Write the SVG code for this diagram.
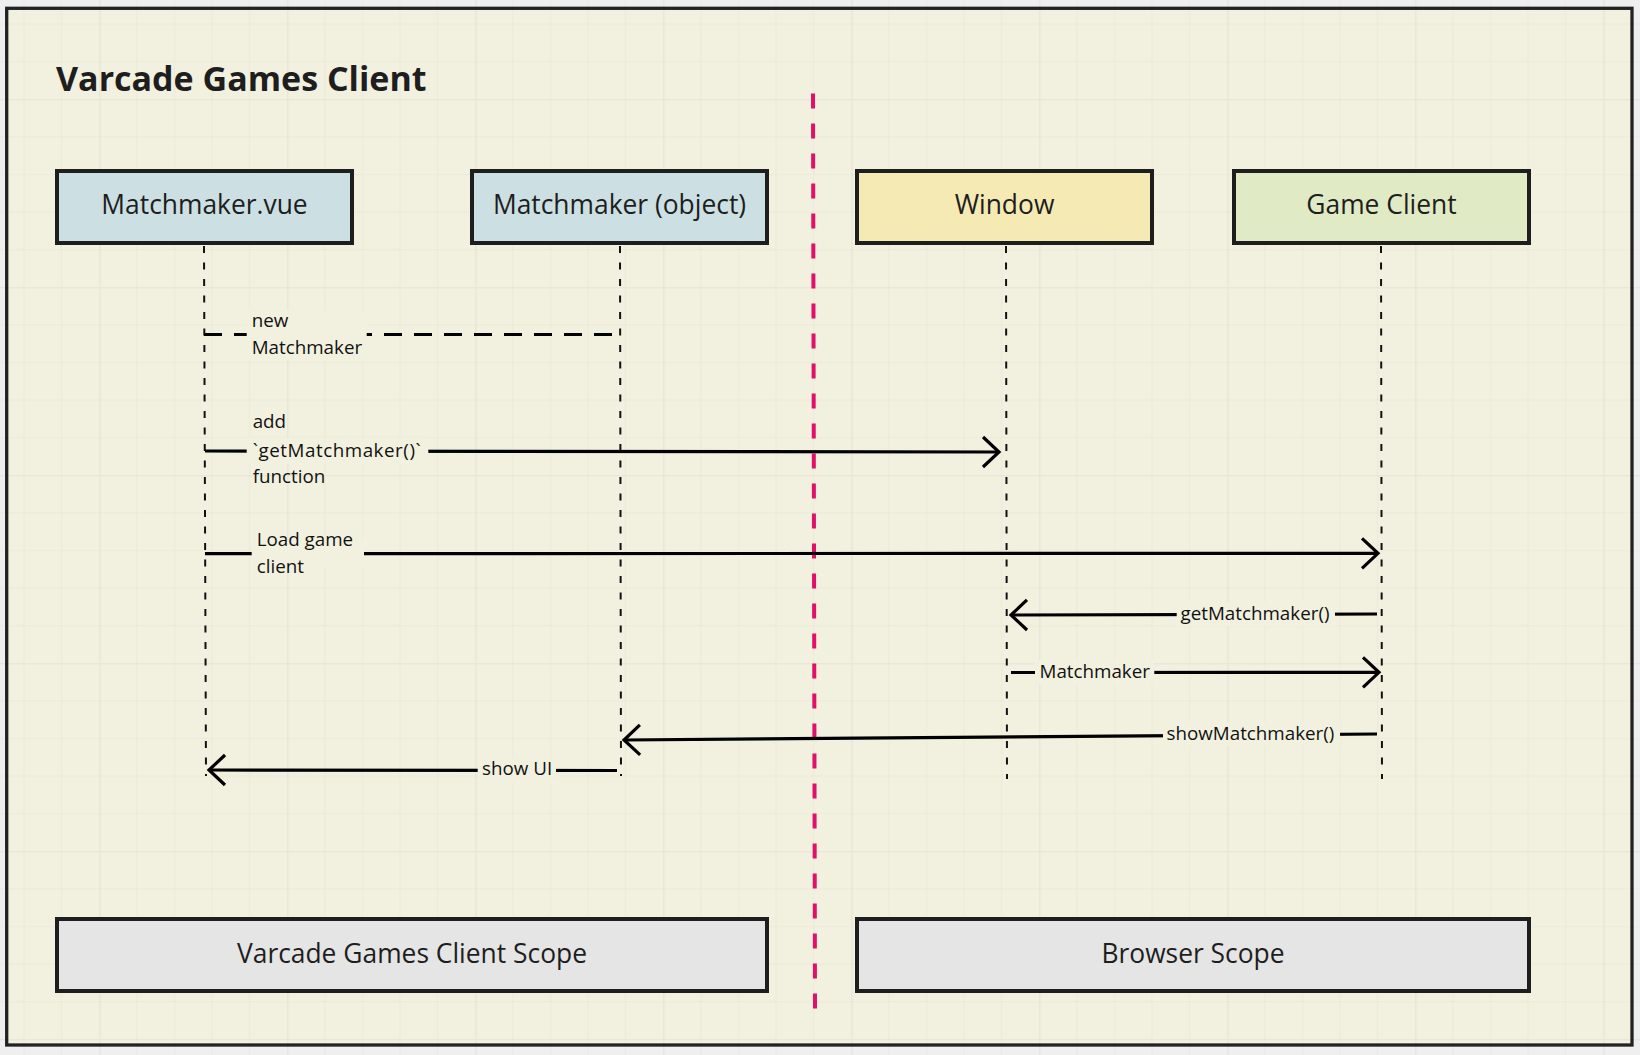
<svg xmlns="http://www.w3.org/2000/svg" width="1640" height="1055" viewBox="0 0 1640 1055">
<style>
.node rect{stroke:#1e1e1e;stroke-width:4}
.ntext{font-family:"Open Sans","Noto Sans","DejaVu Sans",sans-serif;font-size:26.4px;fill:#1e1e1e;text-anchor:middle}
.life{stroke:#111;stroke-width:2;stroke-dasharray:7 9.5;fill:none}
.msg{stroke:#000;stroke-width:3.2;fill:none}
.lbl{font-family:"Open Sans","Noto Sans","DejaVu Sans",sans-serif;font-size:18.8px;fill:#111}
.lblbg{fill:#f2f1e0}
</style>
<defs>
<pattern id="grid" patternUnits="userSpaceOnUse" x="99.3" y="99.3" width="188" height="188">
<path d="M37.6 0V188M75.2 0V188M112.8 0V188M150.4 0V188M0 37.6H188M0 75.2H188M0 112.8H188M0 150.4H188" stroke="#000" stroke-opacity="0.025" stroke-width="1" fill="none"/>
<path d="M0.5 0V188M0 0.5H188" stroke="#000" stroke-opacity="0.05" stroke-width="1.2" fill="none"/>
</pattern>
<marker id="chev" markerUnits="userSpaceOnUse" markerWidth="44" markerHeight="44" viewBox="-22 -22 44 44" refX="0" refY="0" orient="auto">
<path d="M-16 -15L0 0L-16 15" stroke="#000" stroke-width="3.2" fill="none" stroke-linejoin="miter" stroke-linecap="butt"/>
</marker>
</defs>
<rect x="0" y="0" width="1640" height="1055" fill="#efefef"/>
<rect id="frame" x="6.7" y="8.3" width="1625.3" height="1036.7" fill="#f2f1e0" stroke="#222" stroke-width="3.3"/>
<rect x="0" y="0" width="1640" height="1055" fill="url(#grid)"/>
<text x="56" y="91" font-family="'Open Sans','Noto Sans','DejaVu Sans',sans-serif" font-size="34" font-weight="bold" fill="#1e1e1e">Varcade Games Client</text>
<line id="divider" x1="813" y1="93.5" x2="815" y2="1011" stroke="#e0106b" stroke-width="4" stroke-dasharray="15 15"/>
<g id="lifelines">
<line class="life" x1="204" y1="246" x2="206" y2="776"/>
<line class="life" x1="620" y1="246" x2="621" y2="776"/>
<line class="life" x1="1006" y1="246" x2="1007" y2="779"/>
<line class="life" x1="1381" y1="246" x2="1382" y2="779"/>
</g>
<g id="node-matchmaker-vue" class="node">
<rect x="57" y="171" width="295" height="72" fill="#cce0e3"/>
<text class="ntext" x="204.5" y="214">Matchmaker.vue</text>
</g>
<g id="node-matchmaker-object" class="node">
<rect x="472" y="171" width="295" height="72" fill="#cce0e3"/>
<text class="ntext" x="619.5" y="214">Matchmaker (object)</text>
</g>
<g id="node-window" class="node">
<rect x="857" y="171" width="295" height="72" fill="#f5eab4"/>
<text class="ntext" x="1004.5" y="214">Window</text>
</g>
<g id="node-game-client" class="node">
<rect x="1234" y="171" width="295" height="72" fill="#e0eac5"/>
<text class="ntext" x="1381.5" y="214">Game Client</text>
</g>
<g id="node-client-scope" class="node">
<rect x="57" y="919" width="710" height="72" fill="#e5e5e5"/>
<text class="ntext" x="412" y="962.5">Varcade Games Client Scope</text>
</g>
<g id="node-browser-scope" class="node">
<rect x="857" y="919" width="672" height="72" fill="#e5e5e5"/>
<text class="ntext" x="1193" y="962.5">Browser Scope</text>
</g>
<g id="connectors">
<g id="c-new">
<line class="msg" x1="204" y1="334.5" x2="618" y2="334.5" stroke-dasharray="18 12"/>
<rect class="lblbg" x="246.7" y="310" width="120" height="50"/>
<text class="lbl" x="251.7" y="326.7">new</text>
<text class="lbl" x="251.7" y="354">Matchmaker</text>
</g>
<g id="c-add">
<line class="msg" x1="205" y1="451" x2="999" y2="452" marker-end="url(#chev)"/>
<rect class="lblbg" x="246.7" y="438" width="181.6" height="26"/>
<text class="lbl" x="252.7" y="428.3">add</text>
<text class="lbl" x="252.7" y="456.7" textLength="168" lengthAdjust="spacing">`getMatchmaker()`</text>
<text class="lbl" x="252.7" y="482.7">function</text>
</g>
<g id="c-load">
<line class="msg" x1="205" y1="553.7" x2="1378" y2="553.3" marker-end="url(#chev)"/>
<rect class="lblbg" x="251.7" y="540" width="112.3" height="26"/>
<text class="lbl" x="256.7" y="546">Load game</text>
<text class="lbl" x="256.7" y="572.7">client</text>
</g>
<g id="c-get">
<line class="msg" x1="1377" y1="614" x2="1011" y2="615" marker-end="url(#chev)"/>
<rect class="lblbg" x="1176.7" y="602" width="158.3" height="24"/>
<text class="lbl" x="1180.5" y="620">getMatchmaker()</text>
</g>
<g id="c-mm">
<line class="msg" x1="1011" y1="672.5" x2="1379" y2="672.3" marker-end="url(#chev)"/>
<rect class="lblbg" x="1035" y="660" width="119.3" height="24"/>
<text class="lbl" x="1039.5" y="678.3">Matchmaker</text>
</g>
<g id="c-show">
<line class="msg" x1="1377" y1="734" x2="624" y2="740" marker-end="url(#chev)"/>
<rect class="lblbg" x="1163" y="722" width="177" height="24"/>
<text class="lbl" x="1166.5" y="740">showMatchmaker()</text>
</g>
<g id="c-ui">
<line class="msg" x1="617" y1="770.5" x2="209" y2="770" marker-end="url(#chev)"/>
<rect class="lblbg" x="477.7" y="758" width="78.3" height="24"/>
<text class="lbl" x="482" y="775">show UI</text>
</g>
</g>
</svg>
